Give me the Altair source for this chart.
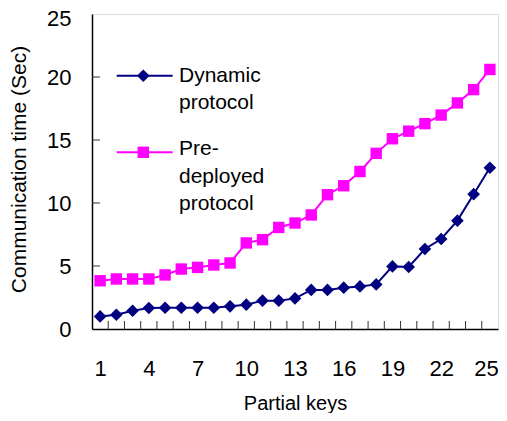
import altair as alt
import pandas as pd

# ---- data ----
keys = list(range(1, 26))
dynamic = [1.0, 1.13, 1.45, 1.67, 1.69, 1.69, 1.69, 1.69, 1.8, 1.93, 2.25, 2.25, 2.43,
           3.1, 3.1, 3.28, 3.38, 3.54, 4.97, 4.92, 6.35, 7.14, 8.6, 10.7, 12.8]
predeployed = [3.83, 3.97, 3.97, 3.97, 4.29, 4.76, 4.89, 5.08, 5.24, 6.83, 7.09, 8.06, 8.41,
               9.05, 10.66, 11.37, 12.5, 13.94, 15.1, 15.7, 16.3, 16.98, 17.94, 19.0, 20.6]
series_names = ["Dynamic protocol", "Pre-deployed protocol"]
legend_labels = ["Dynamic\nprotocol", "Pre-\ndeployed\nprotocol"]
series_colors = ["#000080", "#FF00FF"]
series_shapes = ["diamond", "square"]
x_tick_labels = [1, 4, 7, 10, 13, 16, 19, 22, 25]
y_tick_labels = [0, 5, 10, 15, 20, 25]
x_boundaries = [k + 0.5 for k in keys[:-1]]
y_inner_ticks = [5, 10, 15, 20]

FONT = "Liberation Sans"
W, H = 406, 315

xscale = alt.Scale(domain=[0.5, 25.5], nice=False, zero=False)
yscale = alt.Scale(domain=[0, 25], nice=False)

xaxis = alt.Axis(
    values=x_tick_labels, title="Partial keys", grid=False, ticks=False, tickSize=0,
    domainColor="black", domainWidth=1.5, labelFontSize=22, labelFont=FONT,
    labelColor="black", labelBaseline="alphabetic", labelPadding=46,
    labelFlush=False, labelOverlap=False,
    labelOffset=alt.condition("datum.value == 25", alt.value(-4), alt.value(0)),
    titleFontSize=20, titleFont=FONT, titleFontWeight="normal", titleColor="black",
    titleX=W / 2, titleY=80, titleBaseline="alphabetic")
yaxis = alt.Axis(
    values=y_tick_labels, title="Communication time (Sec)", grid=False, ticks=False,
    tickSize=0, domainColor="black", domainWidth=1.5, labelFontSize=22, labelFont=FONT,
    labelColor="black", labelPadding=21, labelOverlap=False, labelFlush=False,
    labelOffset=alt.condition("datum.value == 25", alt.value(4.5), alt.value(0)),
    titleFontSize=21, titleFont=FONT, titleFontWeight="normal", titleColor="black",
    titleX=-72.5, titleY=155, titleBaseline="middle")

def series_layer(values, name, color, shape, size):
    df = pd.DataFrame({"key": keys, "value": values, "series": name})
    return alt.Chart(df).mark_line(
        color=color, strokeWidth=2,
        point=alt.OverlayMarkDef(shape=shape, filled=True, color=color, size=size, opacity=1),
    ).encode(
        x=alt.X("key:Q", scale=xscale, axis=xaxis, title="Partial keys"),
        y=alt.Y("value:Q", scale=yscale, axis=yaxis, title="Communication time (Sec)"),
    )

dyn = series_layer(dynamic, series_names[0], series_colors[0], series_shapes[0], 160)
pre = series_layer(predeployed, series_names[1], series_colors[1], series_shapes[1], 130)

xt = alt.Chart(pd.DataFrame({"t": x_boundaries})).mark_rule(color="#333", strokeWidth=1).encode(
    x=alt.X("t:Q", scale=xscale, axis=xaxis, title="Partial keys"),
    y=alt.value(H), y2=alt.value(H - 8))
yt = alt.Chart(pd.DataFrame({"t": y_inner_ticks})).mark_rule(color="#333", strokeWidth=1).encode(
    y=alt.Y("t:Q", scale=yscale, axis=yaxis, title="Communication time (Sec)"),
    x=alt.value(0), x2=alt.value(8))

# manual legend
leg_y = [61.7, 138.3]
txt_y = [67.7, 141]
leg_layers = []
for i in range(2):
    d = pd.DataFrame({"label": [legend_labels[i]]})
    base = alt.Chart(d)
    leg_layers.append(base.mark_rule(color=series_colors[i], strokeWidth=2).encode(
        x=alt.value(24.7), x2=alt.value(80.7), y=alt.value(leg_y[i])))
    leg_layers.append(base.mark_point(shape=series_shapes[i], filled=True, opacity=1,
                                      color=series_colors[i],
                                      size=160 if i == 0 else 130).encode(
        x=alt.value(51.3), y=alt.value(leg_y[i])))
    leg_layers.append(base.mark_text(align="left", baseline="alphabetic", lineBreak="\n",
                                     lineHeight=27.5, fontSize=21, font=FONT, color="black").encode(
        x=alt.value(87), y=alt.value(txt_y[i]), text="label:N"))

chart = alt.layer(pre, dyn, xt, yt, *leg_layers).properties(
    width=W, height=H,
    autosize=alt.AutoSizeParams(type="none"),
    padding={"left": 84, "top": 6, "right": 1, "bottom": 84},
).configure_view(stroke="#8c8c8c", strokeWidth=1.5).configure(background="white")

chart.save("out.html", embed_options={"renderer": "svg", "actions": False})
